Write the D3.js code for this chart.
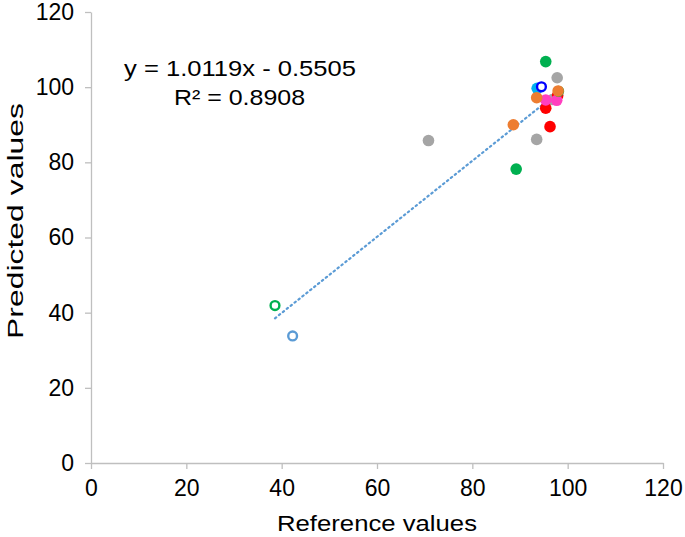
<!DOCTYPE html>
<html lang="en">
<head>
<meta charset="utf-8">
<title>Predicted vs reference</title>
<style>
  body { margin: 0; background: #fff; }
  text { font-family: "Liberation Sans", Arial, sans-serif; fill: #000; }
  .axis path, .axis line { stroke: #bfbfbf; stroke-width: 1.3px; }
</style>
</head>
<body>
<script src="https://cdn.jsdelivr.net/npm/d3@7"></script>
<script>

// ---- data ----
const xTicks = [0, 20, 40, 60, 80, 100, 120];
const yTicks = [0, 20, 40, 60, 80, 100, 120];

// filled markers: [reference, predicted]
const greenPts   = [[95.4, 106.8], [89.2, 78.2]];
const grayPts    = [[97.8, 102.5], [93.5, 86.1], [70.8, 85.8], [96.8, 96.7]];
const cyanPts    = [[93.6, 99.7]];
const orangePts  = [[93.5, 97.2], [88.6, 90.0], [98.0, 99.0]];
const magentaPts = [[95.4, 96.6], [97.7, 96.5]];
const redPts     = [[97.9, 97.8], [95.4, 94.4], [96.3, 89.5]];
// open markers
const blueOpen      = [[94.5, 100.1]];
const greenOpen     = [[38.6, 41.9], [98.1, 98.9]];
const lightBlueOpen = [[42.3, 33.8]];

// trend line y = 1.0119x - 0.5505
const slope = 1.0119, intercept = -0.5505, r2 = 0.8908;
const trendX = [38.6, 98.1];

// ---- layout ----
const W = 685, H = 537;
const m = {left: 91, right: 663, top: 12, bottom: 463};

const svg = d3.select("body").append("svg")
  .attr("width", W).attr("height", H);

const x = d3.scaleLinear().domain([0, 120]).range([m.left, m.right]);
const y = d3.scaleLinear().domain([0, 120]).range([m.bottom, m.top]);

// axes
const gx = svg.append("g").attr("class", "axis")
  .attr("transform", `translate(0,${m.bottom})`)
  .call(d3.axisBottom(x).tickValues(xTicks).tickSize(6).tickSizeOuter(0).tickPadding(11));
gx.selectAll("text").style("font-size", "23px");

const gy = svg.append("g").attr("class", "axis")
  .attr("transform", `translate(${m.left},0)`)
  .call(d3.axisLeft(y).tickValues(yTicks).tickSize(6).tickSizeOuter(0).tickPadding(11));
gy.selectAll("text").style("font-size", "23px");

// trend line (dotted)
svg.append("line")
  .attr("x1", x(trendX[0])).attr("y1", y(slope * trendX[0] + intercept))
  .attr("x2", x(trendX[1])).attr("y2", y(slope * trendX[1] + intercept))
  .attr("stroke", "#5b9bd5").attr("stroke-width", 2.2)
  .attr("stroke-dasharray", "1.5,3.5").attr("stroke-linecap", "round");

// markers
function filled(data, colour) {
  svg.append("g").selectAll("circle").data(data).join("circle")
    .attr("cx", d => x(d[0])).attr("cy", d => y(d[1])).attr("r", 5.8)
    .attr("fill", colour);
}
function open(data, colour) {
  svg.append("g").selectAll("circle").data(data).join("circle")
    .attr("cx", d => x(d[0])).attr("cy", d => y(d[1])).attr("r", 4.4)
    .attr("fill", "#fff").attr("stroke", colour).attr("stroke-width", 2.4);
}

filled(grayPts, "#a5a5a5");
filled(greenPts, "#00b050");
filled(cyanPts, "#00b0f0");
filled(redPts, "#ff0000");
filled(magentaPts, "#ff3fbf");
open(blueOpen, "#0000ff");
open(greenOpen, "#00b050");
filled(orangePts, "#ed7d31");
open(lightBlueOpen, "#5b9bd5");

// equation label
svg.append("text").attr("x", 124).attr("y", 76)
  .attr("textLength", 232).attr("lengthAdjust", "spacingAndGlyphs")
  .style("font-size", "22px").text(`y = ${slope}x - ${Math.abs(intercept).toFixed(4)}`);
svg.append("text").attr("x", 174).attr("y", 105)
  .attr("textLength", 131).attr("lengthAdjust", "spacingAndGlyphs")
  .style("font-size", "22px").text(`R² = ${r2}`);

// axis titles
svg.append("text").attr("x", 277).attr("y", 531)
  .attr("textLength", 200).attr("lengthAdjust", "spacingAndGlyphs")
  .style("font-size", "22px").text("Reference values");
svg.append("text").attr("transform", "translate(22.5,339) rotate(-90)")
  .attr("textLength", 236).attr("lengthAdjust", "spacingAndGlyphs")
  .style("font-size", "22px").text("Predicted values");

</script>
</body>
</html>
